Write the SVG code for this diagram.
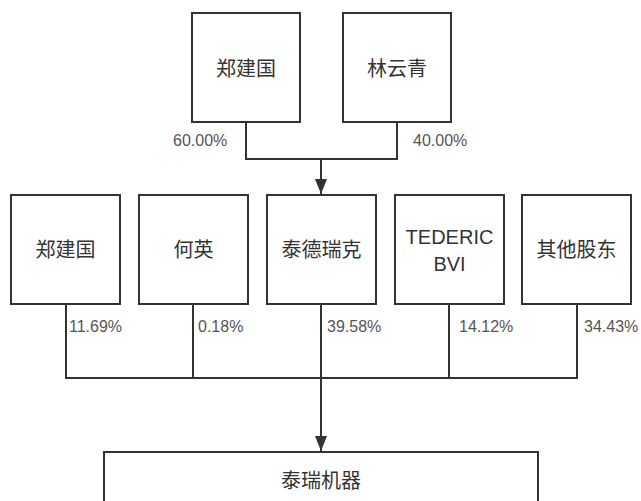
<svg xmlns="http://www.w3.org/2000/svg" width="641" height="501" viewBox="0 0 641 501">
<style>
.box{fill:#fff;stroke:#333;stroke-width:2}
.lbl{font-family:"Liberation Sans","Noto Sans CJK SC",sans-serif;font-size:20px;fill:#333;text-anchor:middle;dominant-baseline:central}
.pct{font-family:"Liberation Sans",sans-serif;font-size:16px;fill:#555}
.ln{fill:none;stroke:#333;stroke-width:2}
</style>
<defs>
<marker id="arr" viewBox="0 0 15 12" refX="15" refY="6" markerWidth="15" markerHeight="12" markerUnits="userSpaceOnUse" orient="auto">
<path d="M0,0 L15,6 L0,12 Z" fill="#333"/>
</marker>
</defs>
<rect width="641" height="501" fill="#fff"/>
<g id="connectors">
<path class="ln" d="M246,122 V159 H397 V122"/>
<path class="ln" d="M321,159 V194" marker-end="url(#arr)"/>
<path class="ln" d="M66,304 V378 H577 V304"/>
<path class="ln" d="M193,304 V378"/>
<path class="ln" d="M321,304 V378"/>
<path class="ln" d="M449,304 V378"/>
<path class="ln" d="M321,378 V451" marker-end="url(#arr)"/>
</g>
<g id="n_zjg_top"><rect class="box" x="192" y="13" width="108" height="109"/><text class="lbl" x="246" y="69">郑建国</text></g>
<g id="n_lyq"><rect class="box" x="343" y="13" width="108" height="109"/><text class="lbl" x="397" y="69">林云青</text></g>
<text class="pct" x="173" y="146">60.00%</text>
<text class="pct" x="413" y="146">40.00%</text>
<g id="n_zjg"><rect class="box" x="11" y="195" width="109" height="109"/><text class="lbl" x="65.5" y="250">郑建国</text></g>
<g id="n_hy"><rect class="box" x="139" y="195" width="109" height="109"/><text class="lbl" x="193.5" y="250">何英</text></g>
<g id="n_tdrk"><rect class="box" x="267" y="195" width="109" height="109"/><text class="lbl" x="321.5" y="250">泰德瑞克</text></g>
<g id="n_bvi"><rect class="box" x="395" y="195" width="109" height="109"/><text class="lbl" x="449.5" y="237">TEDERIC</text><text class="lbl" x="449.5" y="264">BVI</text></g>
<g id="n_other"><rect class="box" x="522" y="195" width="109" height="109"/><text class="lbl" x="576.5" y="250">其他股东</text></g>
<text class="pct" x="69" y="332">11.69%</text>
<text class="pct" x="198" y="332">0.18%</text>
<text class="pct" x="327" y="332">39.58%</text>
<text class="pct" x="459" y="332">14.12%</text>
<text class="pct" x="584" y="332">34.43%</text>
<g id="n_trjq"><rect class="box" x="104" y="452" width="434" height="70"/><text class="lbl" x="321" y="481">泰瑞机器</text></g>
</svg>
